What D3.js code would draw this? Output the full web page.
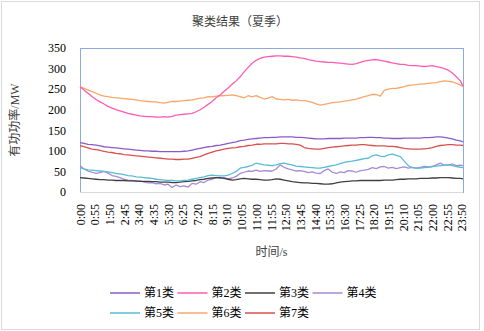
<!DOCTYPE html>
<html>
<head>
<meta charset="utf-8">
<script src="https://cdn.jsdelivr.net/npm/d3@7"></script>
<style>
  body { margin: 0; background: #fff; }
  text { font-family: "Liberation Serif", "Noto Sans CJK SC", serif; }
</style>
</head>
<body>
<script>
'use strict';

// time of each sample, minutes after midnight (15 min steps, last one is 23:55)
const times = d3.range(0, 1440, 15).concat([1435]);

const tickLabels = ["0:00","0:55","1:50","2:45","3:40","4:35","5:30","6:25","7:20",
  "8:15","9:10","10:05","11:00","11:55","12:50","13:45","14:40","15:35","16:30",
  "17:25","18:20","19:15","20:10","21:05","22:00","22:55","23:50"];

const yTicks = [0, 50, 100, 150, 200, 250, 300, 350];

const seriesNames = ["第1类","第2类","第3类","第4类","第5类","第6类","第7类"];

const s1 = [120,118,116,115, 114,112,110,109, 108,107,106,105, 104,103,102,101,
  100,100,99,99, 98,98,98,98, 98,98,99,100, 102,104,106,108, 110,111,113,114,
  116,118,120,122, 125,126,128,129, 130,131,132,132, 133,133,134,134, 134,134,133,133,
  132,131,130,129, 129,129,130,130, 130,130,131,131, 131,131,132,132, 133,133,132,132,
  131,131,130,130, 130,131,131,131, 131,131,132,132, 133,134,134,133, 131,129,126,124, 122];

const s2 = [256,248,240,232, 225,219,214,208, 204,200,197,194, 191,189,187,185,
  184,183,183,182, 182,183,182,184, 187,188,189,190, 191,195,200,206, 213,220,229,236,
  245,253,262,270, 280,292,303,313, 320,325,328,329, 330,331,331,330, 330,329,328,326,
  325,322,320,318, 317,316,315,315, 314,313,312,311, 310,312,315,318, 320,321,322,320,
  318,316,314,312, 310,310,308,307, 307,306,305,306, 307,305,303,300, 296,289,280,270, 258];

const s3 = [35,34,33,32, 31,30,30,29, 29,28,28,28, 27,27,27,26, 26,26,25,25, 24,24,24,23,
  23,24,25,26, 27,28,30,31, 33,34,35,35, 33,31,29,30, 32,33,32,31, 31,30,29,29,
  30,32,31,29, 27,25,24,23, 22,22,21,21, 20,19,19,20, 22,24,25,26, 27,27,28,28,
  28,28,28,28, 29,29,29,30, 31,31,32,32, 32,33,33,33, 34,34,35,35, 35,34,33,33, 32];

const s4 = [64,56,51,48, 45,47,50,46, 40,38,35,31, 29,28,25,27, 24,22,23,20, 21,17,19,11,
  17,13,15,12, 21,19,25,23, 29,31,35,33, 35,32,34,38, 45,48,51,50, 53,50,52,51,
  51,56,66,60, 56,54,51,52, 50,47,49,46, 45,52,56,48, 45,49,47,52, 51,48,52,53,
  55,59,57,61, 62,58,60,57, 59,61,58,60, 58,60,62,61, 62,66,70,65, 66,68,64,65, 64];

const s5 = [59,56,54,53, 52,51,50,49, 47,45,44,42, 40,39,37,36, 35,34,33,31, 30,29,28,28,
  27,27,28,29, 31,33,35,37, 40,41,40,39, 39,41,45,50, 58,60,62,65, 70,68,66,65,
  64,66,69,70, 68,66,63,62, 61,60,59,58, 58,60,62,64, 66,69,72,74, 75,77,79,81,
  82,88,90,87, 86,90,92,89, 86,75,64,59, 58,58,59,60, 62,63,64,65, 66,64,62,60, 59];

const s6 = [256,252,248,244, 240,236,233,232, 230,229,228,227, 226,225,224,222,
  221,220,219,219, 217,216,218,220, 220,221,222,223, 224,226,228,229, 232,231,233,234,
  234,235,236,234, 232,229,234,231, 234,230,226,228, 232,226,225,224, 225,223,224,222,
  222,220,218,214, 211,213,215,217, 218,219,221,222, 224,226,229,232, 234,237,237,233,
  247,250,252,252, 254,256,259,260, 261,262,263,264, 265,266,268,270, 269,268,264,260, 256];

const s7 = [113,110,107,104, 103,101,99,97, 96,94,93,91, 90,89,88,87, 86,85,84,83, 82,81,80,80,
  79,79,80,80, 82,84,86,90, 94,97,100,102, 104,106,107,108, 110,111,113,114, 116,116,117,117,
  117,117,118,118, 117,117,116,114, 108,106,105,104, 104,106,108,109, 110,111,112,113,
  114,114,115,115, 114,113,112,112, 112,111,111,110, 108,106,105,104, 104,104,105,106,
  108,111,113,114, 115,115,114,114, 113];

const colors = ["#8b5cc6","#ff5cb0","#404040","#a68ad6","#58bcd6","#f9a66c","#d9504f"];

const width = 484, height = 331;
const margin = {top: 48, right: 21, bottom: 139, left: 80};

const svg = d3.select("body").append("svg")
    .attr("width", width)
    .attr("height", height);

// outer frame
svg.append("rect")
    .attr("x", 1.5).attr("y", 1.5)
    .attr("width", width - 6).attr("height", height - 3)
    .attr("fill", "#fff")
    .attr("stroke", "#d9d9d9");

// title
svg.append("text")
    .attr("x", 240).attr("y", 26)
    .attr("text-anchor", "middle")
    .style("font-size", "12px")
    .style("fill", "#404040")
    .text("聚类结果（夏季）");

const x = d3.scaleLinear().domain([0, 1435]).range([margin.left, width - margin.right]);
const y = d3.scaleLinear().domain([0, 350]).range([height - margin.bottom, margin.top]);

// plot area border
svg.append("rect")
    .attr("x", margin.left + 0.5).attr("y", margin.top + 0.5)
    .attr("width", x.range()[1] - margin.left)
    .attr("height", y(0) - margin.top)
    .attr("fill", "none")
    .attr("stroke", "#8faadc");

// Y axis
let yAxis = svg.append("g")
    .attr("transform", "translate(" + margin.left + ",0)")
    .call(d3.axisLeft(y).tickValues(yTicks).tickSize(0).tickPadding(14));
yAxis.select(".domain").remove();
yAxis.selectAll("text").style("font-size", "12px").style("fill", "#000");

// X axis
const tickMinutes = tickLabels.map(function(t) {
  let p = t.split(":");
  return +p[0] * 60 + +p[1];
});
let xAxis = svg.append("g")
    .attr("transform", "translate(0," + y(0) + ")")
    .call(d3.axisBottom(x).tickValues(tickMinutes)
      .tickFormat(function(d, i) { return tickLabels[i]; }).tickSize(0));
xAxis.select(".domain").attr("stroke", "#d9d9d9").attr("d", "M" + margin.left + ",0.5H" + x.range()[1]);
xAxis.selectAll("text")
    .style("font-size", "12px")
    .style("fill", "#000")
    .attr("text-anchor", "end")
    .attr("transform", "rotate(-90)")
    .attr("x", -12)
    .attr("y", 0)
    .attr("dy", "0.35em");

// axis titles
svg.append("text")
    .attr("x", (margin.left + x.range()[1]) / 2).attr("y", 256)
    .attr("text-anchor", "middle")
    .style("font-size", "12px")
    .style("fill", "#404040")
    .text("时间/s");

svg.append("text")
    .attr("transform", "translate(19," + ((margin.top + y(0)) / 2) + ") rotate(-90)")
    .attr("text-anchor", "middle")
    .style("font-size", "12px")
    .style("fill", "#404040")
    .text("有功功率/MW");

// lines
const allSeries = [s1, s2, s3, s4, s5, s6, s7];
const line = d3.line()
    .x(function(d, i) { return x(times[i]); })
    .y(function(d) { return y(d); });

// draw order roughly like the reference
[3, 2, 4, 0, 6, 5, 1].forEach(function(k) {
  svg.append("path")
      .attr("d", line(allSeries[k]))
      .attr("fill", "none")
      .attr("stroke", colors[k])
      .attr("stroke-width", 1.3)
      .attr("stroke-linejoin", "round");
});

// legend
const legend = svg.append("g");
seriesNames.forEach(function(name, i) {
  let col = i % 4, row = Math.floor(i / 4);
  let lx = 110 + col * 67.5, ly = 293 + row * 20;
  legend.append("line")
      .attr("x1", lx).attr("x2", lx + 30)
      .attr("y1", ly).attr("y2", ly)
      .attr("stroke", colors[i])
      .attr("stroke-width", 1.5);
  legend.append("text")
      .attr("x", lx + 34).attr("y", ly + 4)
      .style("font-size", "12px")
      .style("fill", "#000")
      .text(name);
});
</script>
</body>
</html>
